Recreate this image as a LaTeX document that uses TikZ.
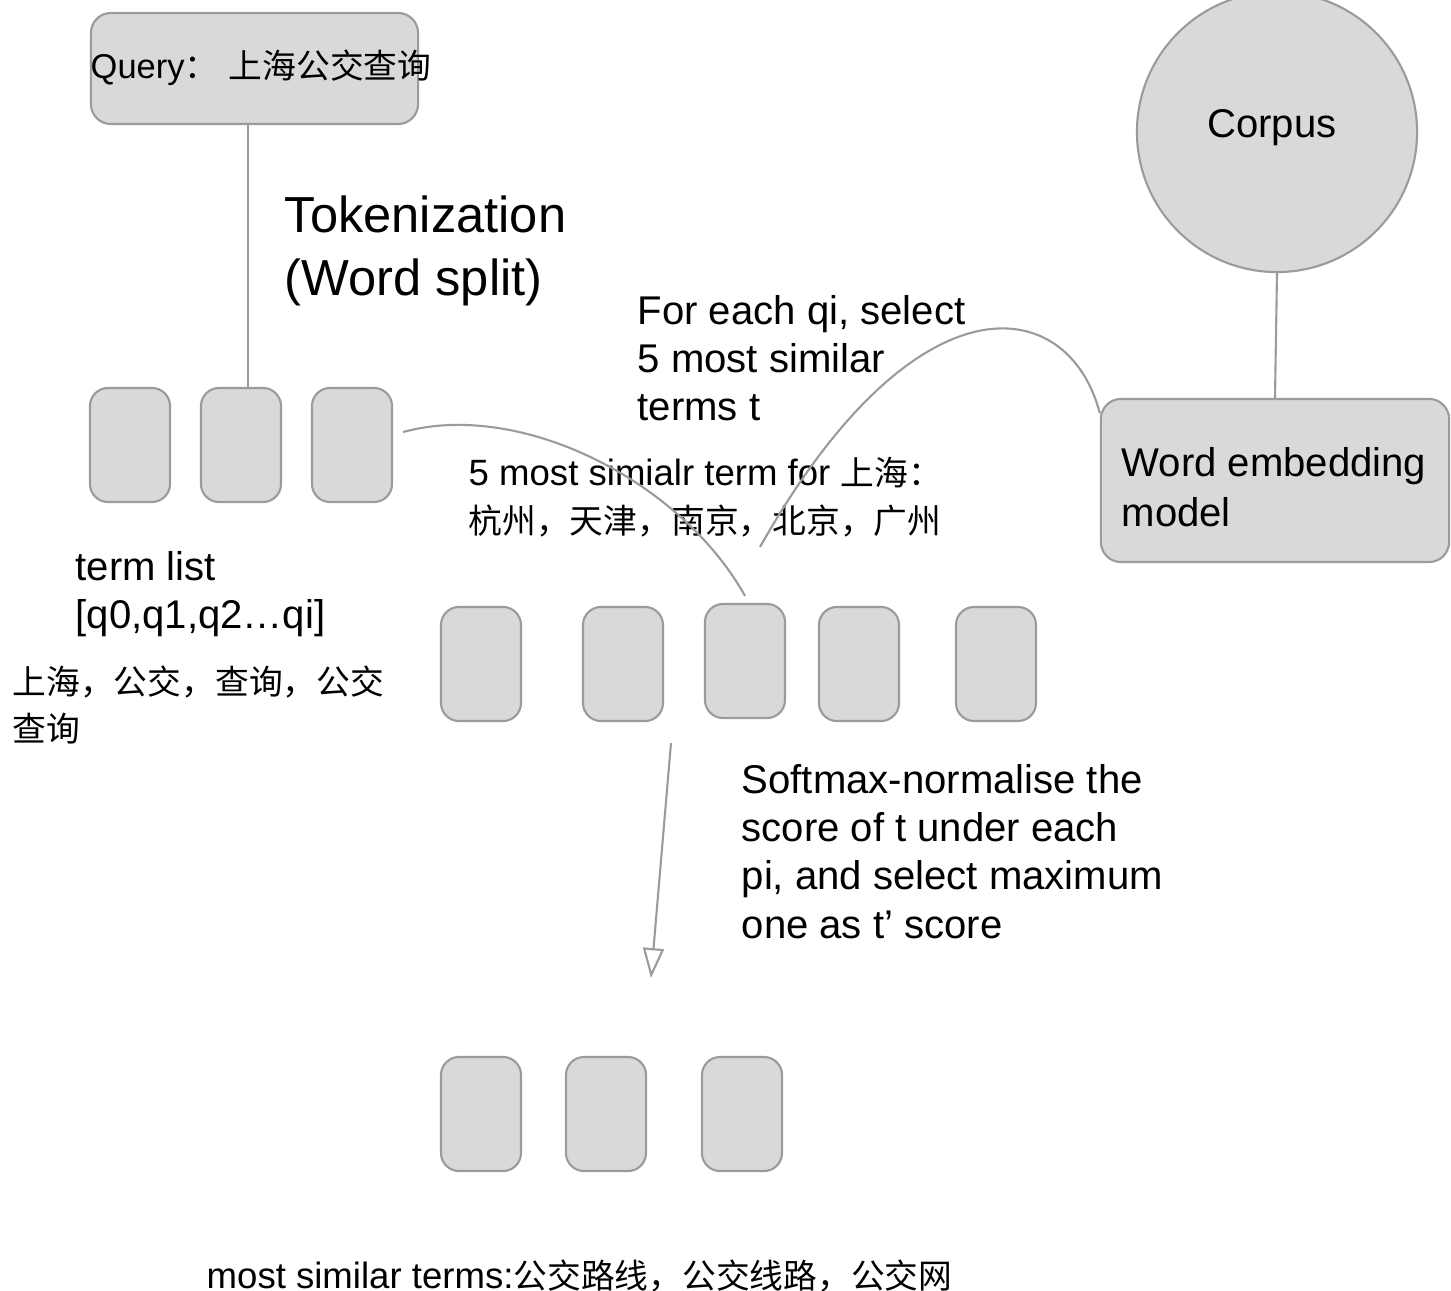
\documentclass[tikz,border=0pt]{standalone}
\usepackage{fontspec}
\setmainfont{Liberation Sans}
\newfontfamily\cjk{Noto Sans CJK SC}
\newcommand\zh[1]{{\fontsize{9.6pt}{13.7pt}\selectfont\cjk #1}}
\usetikzlibrary{arrows.meta}
\definecolor{boxfill}{HTML}{D9D9D9}
\definecolor{boxline}{HTML}{9B9B9B}
\tikzset{
  termbox/.style={draw=boxline, fill=boxfill, line width=0.6pt, rounded corners=0.18cm,
    minimum width=0.8cm, minimum height=1.14cm, inner sep=0pt},
  bigbox/.style={draw=boxline, fill=boxfill, line width=0.6pt, rounded corners=0.2cm, inner sep=0pt},
  link/.style={draw=boxline, line width=0.6pt},
  lbl/.style={inner sep=0pt, anchor=west, align=left, font=\fontsize{11.4pt}{13.7pt}\selectfont},
  smalllbl/.style={lbl, font=\fontsize{10.4pt}{13.7pt}\selectfont},
  biglbl/.style={lbl, font=\fontsize{14.4pt}{17.9pt}\selectfont},
}
\begin{document}
\begin{tikzpicture}[x=0.01cm, y=-0.01cm, >={Triangle[open,length=8.5pt,width=6pt]}]
\useasboundingbox (0,0) rectangle (1451,1291);

% query and tokenization
\node[bigbox, minimum width=3.27cm, minimum height=1.11cm] (query) at (254.5,68.5) {};
\node[smalllbl, font=\fontsize{9.8pt}{13.7pt}\selectfont] (querytext) at (90,68) {Query\zh{：}\hspace{3pt}\zh{上海公交查询}};
\node[biglbl] (tokentext) at (284,251) {Tokenization\\(Word split)};

\foreach \i/\x in {1/130,2/241,3/352}
{
    \node[termbox] (tok\i) at (\x,445) {};
}
\draw[link] ([xshift=0.07cm]tok2.north |- query.south) -- ([xshift=0.07cm]tok2.north);

\node[lbl] (listtext) at (75,594) {term list\\{[q0,q1,q2…qi]}};
\node[smalllbl, font=\fontsize{9.6pt}{13.1pt}\selectfont\cjk] (listcjk) at (12,705) {上海，公交，查询，公交\\查询};

% corpus and embedding model
\node[circle, draw=boxline, fill=boxfill, line width=0.6pt, minimum size=2.8cm, inner sep=0pt] (corpus) at (1277,132) {};
\node[lbl, anchor=center] (corpustext) at (1272,128) {Corpus};
\node[bigbox, minimum width=3.48cm, minimum height=1.63cm] (we) at (1275,480.5) {};
\node[lbl, font=\fontsize{11.4pt}{14.2pt}\selectfont] (wetext) at (1121,487) {Word embedding\\model};
\draw[link] (corpus.south) -- (we.north);

% similar terms
\node[lbl] (selecttext) at (637,358) {For each qi, select\\5 most similar\\terms t};
\node[smalllbl] (simtext) at (468,497) {5 most simialr term for \zh{上海：}\\\zh{杭州，天津，南京，北京，广州}};

\foreach \i/\x/\y in {1/481/664,2/623/664,3/745/661,4/859/664,5/996/664}
{
    \node[termbox] (sim\i) at (\x,\y) {};
}
\draw[link] ([shift={(0.1cm,0.13cm)}]tok3.east) .. controls (520,400) and (680,480) .. ([yshift=0.07cm]sim3.north);
\coordinate (simend) at (760,547);
\draw[link] (we.159) .. controls (1068,292) and (915,272) .. (simend);

% softmax and result
\node[lbl] (softtext) at (741,851.5) {Softmax-normalise the\\score of t under each\\pi, and select maximum\\one as t’ score};
\coordinate (arrtop) at (671,743);
\coordinate (arrtip) at (651,978);
\draw[link,->] (arrtop) -- (arrtip);

\foreach \i/\x in {1/481,2/606,3/742}
{
    \node[termbox] (top\i) at (\x,1114) {};
}
\node[smalllbl] (resulttext) at (206,1276) {most similar terms:\zh{公交路线，公交线路，公交网}};

\end{tikzpicture}
\end{document}
